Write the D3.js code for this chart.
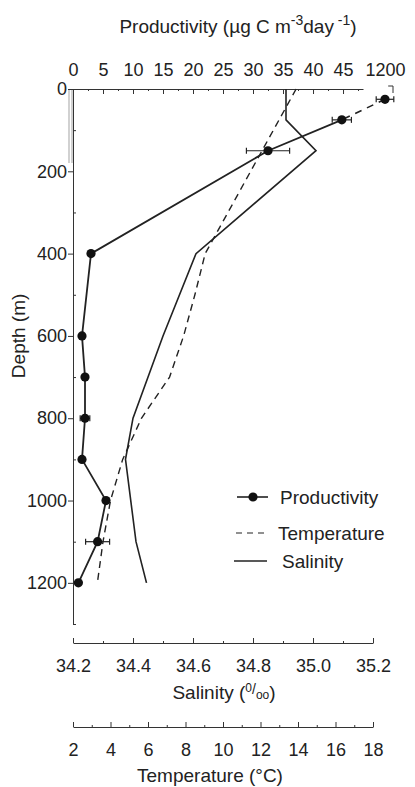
<!DOCTYPE html>
<html>
<head>
<meta charset="utf-8">
<script src="https://cdn.jsdelivr.net/npm/d3@7"></script>
<style>
  body { margin: 0; background: #fff; }
  svg { display: block; font-family: "Liberation Sans", Arial, sans-serif; }
  .axis path, .axis line { stroke: #333; }
  .axis text { fill: #222; font-size: 18px; font-family: "Liberation Sans", Arial, sans-serif; }
</style>
</head>
<body>
<svg id="chart"></svg>
<script>
// productivity (ug C m-3 day-1), first value sits on the broken part of the axis
const prodDepth = [25, 75, 150, 400, 600, 700, 800, 900, 1000, 1100, 1200];
const prodValue = [1200, 44.8, 32.5, 3.0, 1.5, 2.0, 2.0, 1.5, 5.5, 4.1, 0.9];
const prodError = [55, 1.6, 3.6, 0, 0, 0, 0.8, 0, 0, 2.0, 0];

const tempDepth = [0, 400, 500, 600, 700, 800, 900, 1000, 1100, 1200];
const tempValue = [13.9, 9.05, 8.5, 7.9, 7.15, 5.65, 4.65, 4.0, 3.6, 3.3];

const salDepth = [0, 75, 150, 400, 600, 800, 900, 1100, 1200];
const salValue = [34.91, 34.91, 35.01, 34.61, 34.50, 34.40, 34.375, 34.41, 34.445];

const depthMajor = [0, 200, 400, 600, 800, 1000, 1200];
const depthMinor = [100, 300, 500, 700, 900, 1100, 1300];
const prodMajor = [0, 5, 10, 15, 20, 25, 30, 35, 40, 45];
const prodMinor = [2.5, 7.5, 12.5, 17.5, 22.5, 27.5, 32.5, 37.5, 42.5, 47.5];
const salMajor = [34.2, 34.4, 34.6, 34.8, 35.0, 35.2];
const salMinor = [34.3, 34.5, 34.7, 34.9, 35.1];
const tempMajor = [2, 4, 6, 8, 10, 12, 14, 16, 18];
const tempMinor = [3, 5, 7, 9, 11, 13, 15, 17];

const legendItems = ['Productivity', 'Temperature', 'Salinity'];

const width = 415;
const height = 787;
const ink = '#222';

const svg = d3.select('#chart').attr('width', width).attr('height', height);

const y = d3.scaleLinear().domain([0, 1300]).range([89, 624]);
const xProd = d3.scaleLinear().domain([0, 48.33]).range([73, 363]);
const xBreak = d3.scaleLinear().domain([1100, 1300]).range([369, 401]);
const xSal = d3.scaleLinear().domain([34.2, 35.2]).range([73, 373]);
const xTemp = d3.scaleLinear().domain([2, 18]).range([73, 373]);

const px = v => (v > 100 ? xBreak(v) : xProd(v));

// grey marks beside the depth axis near the surface
[69, 72].forEach(gx => {
  svg.append('line')
    .attr('x1', gx).attr('x2', gx)
    .attr('y1', y(0)).attr('y2', y(180))
    .attr('stroke', '#b8b8b8').attr('stroke-width', 1.3);
});

// depth axis
svg.append('g').attr('class', 'axis')
  .attr('transform', `translate(${xProd(0)},0)`)
  .call(d3.axisLeft(y).tickValues(depthMajor).tickSize(5).tickSizeOuter(0).tickPadding(1).tickFormat(d3.format('d')));
svg.append('g').attr('class', 'axis')
  .attr('transform', `translate(${xProd(0)},0)`)
  .call(d3.axisRight(y).tickValues(depthMinor).tickSize(3).tickSizeOuter(0).tickFormat(''))
  .select('.domain').remove();

// productivity axis on top
svg.append('g').attr('class', 'axis')
  .attr('transform', `translate(0,${y(0)})`)
  .call(d3.axisTop(xProd).tickValues(prodMajor).tickSize(-5).tickSizeOuter(0).tickPadding(13));
svg.append('g').attr('class', 'axis')
  .attr('transform', `translate(0,${y(0)})`)
  .call(d3.axisTop(xProd).tickValues(prodMinor.filter(v => v < 48)).tickSize(-2).tickSizeOuter(0).tickFormat(''))
  .select('.domain').remove();
svg.append('g').attr('class', 'axis')
  .attr('transform', `translate(0,${y(0)})`)
  .call(d3.axisTop(xBreak).tickValues([1200]).tickSize(0).tickPadding(13).tickFormat(d3.format('d')))
  .select('.domain').remove();
svg.append('path')
  .attr('d', `M${xBreak(1220)},${y(0) - 3}H${xBreak(1250)}V${y(0) + 4}`)
  .attr('fill', 'none').attr('stroke', '#333');

// salinity axis
const salY = 643;
svg.append('g').attr('class', 'axis')
  .attr('transform', `translate(0,${salY})`)
  .call(d3.axisBottom(xSal).tickValues(salMajor).tickSize(-5).tickSizeOuter(0).tickPadding(16).tickFormat(d3.format('.1f')));
svg.append('g').attr('class', 'axis')
  .attr('transform', `translate(0,${salY})`)
  .call(d3.axisBottom(xSal).tickValues(salMinor).tickSize(-2).tickFormat(''))
  .select('.domain').remove();

// temperature axis
const tempY = 727;
svg.append('g').attr('class', 'axis')
  .attr('transform', `translate(0,${tempY})`)
  .call(d3.axisBottom(xTemp).tickValues(tempMajor).tickSize(-5).tickSizeOuter(0).tickPadding(16).tickFormat(d3.format('d')));
svg.append('g').attr('class', 'axis')
  .attr('transform', `translate(0,${tempY})`)
  .call(d3.axisBottom(xTemp).tickValues(tempMinor).tickSize(-2).tickFormat(''))
  .select('.domain').remove();

// titles
const title = svg.append('text')
  .attr('x', 238).attr('y', 33)
  .attr('text-anchor', 'middle')
  .attr('font-size', 19).attr('fill', ink);
title.append('tspan').text('Productivity (\u00b5g C m');
title.append('tspan').attr('dy', -8).attr('font-size', 14).text('-3');
title.append('tspan').attr('dy', 8).text('day');
title.append('tspan').attr('dy', -8).attr('font-size', 14).text(' -1');
title.append('tspan').attr('dy', 8).text(')');

svg.append('text')
  .attr('transform', `translate(25,${y(600)}) rotate(-90)`)
  .attr('text-anchor', 'middle')
  .attr('font-size', 19).attr('fill', ink)
  .text('Depth (m)');

const salTitle = svg.append('text')
  .attr('x', 224).attr('y', 699)
  .attr('text-anchor', 'middle')
  .attr('font-size', 19).attr('fill', ink);
salTitle.append('tspan').text('Salinity   (');
salTitle.append('tspan').attr('dy', -7).attr('font-size', 12).text('0');
salTitle.append('tspan').attr('dy', 2).attr('font-size', 14).text('/');
salTitle.append('tspan').attr('dy', 5).attr('font-size', 12).text('oo');
salTitle.append('tspan').attr('dy', 0).text(')');

svg.append('text')
  .attr('x', 210).attr('y', 782)
  .attr('text-anchor', 'middle')
  .attr('font-size', 19).attr('fill', ink)
  .text('Temperature (\u00b0C)');

// temperature profile
svg.append('path')
  .datum(tempDepth.map((d, i) => [xTemp(tempValue[i]), y(d)]))
  .attr('d', d3.line())
  .attr('fill', 'none').attr('stroke', ink)
  .attr('stroke-width', 1.4).attr('stroke-dasharray', '7,5');

// salinity profile
svg.append('path')
  .datum(salDepth.map((d, i) => [xSal(salValue[i]), y(d)]))
  .attr('d', d3.line())
  .attr('fill', 'none').attr('stroke', ink).attr('stroke-width', 1.6);

// productivity profile
const prodPts = prodDepth.map((d, i) => ({ x: px(prodValue[i]), y: y(d), v: prodValue[i], e: prodError[i] }));
svg.append('path')
  .datum(prodPts.slice(0, 2).map(p => [p.x, p.y]))
  .attr('d', d3.line())
  .attr('fill', 'none').attr('stroke', ink)
  .attr('stroke-width', 1.6).attr('stroke-dasharray', '7,6');
svg.append('path')
  .datum(prodPts.slice(1).map(p => [p.x, p.y]))
  .attr('d', d3.line())
  .attr('fill', 'none').attr('stroke', ink).attr('stroke-width', 1.8);

const bars = svg.append('g').attr('stroke', ink).attr('stroke-width', 1.2);
prodPts.filter(p => p.e > 0).forEach(p => {
  const x0 = px(p.v - p.e);
  const x1 = px(p.v + p.e);
  bars.append('line').attr('x1', x0).attr('x2', x1).attr('y1', p.y).attr('y2', p.y);
  [x0, x1].forEach(xx => {
    bars.append('line').attr('x1', xx).attr('x2', xx).attr('y1', p.y - 3).attr('y2', p.y + 3);
  });
});

svg.append('g').selectAll('circle')
  .data(prodPts)
  .join('circle')
  .attr('cx', d => d.x).attr('cy', d => d.y)
  .attr('r', 4.6).attr('fill', '#111');

// legend
const legend = svg.append('g');
const rowY = [497, 533, 561];
legendItems.forEach((name, i) => {
  const row = legend.append('g').attr('transform', `translate(0,${rowY[i]})`);
  if (i === 0) {
    row.append('line').attr('x1', 237).attr('x2', 268).attr('stroke', ink).attr('stroke-width', 1.6);
    row.append('circle').attr('cx', 253).attr('r', 4.6).attr('fill', '#111');
  } else if (i === 1) {
    row.append('line').attr('x1', 236).attr('x2', 266).attr('stroke', ink)
      .attr('stroke-width', 1.2).attr('stroke-dasharray', '6,5');
  } else {
    row.append('line').attr('x1', 234).attr('x2', 267).attr('stroke', ink).attr('stroke-width', 1.4);
  }
  row.append('text')
    .attr('x', [280, 278, 282][i]).attr('y', 6.5)
    .attr('font-size', 19).attr('fill', ink)
    .text(name);
});
</script>
</body>
</html>
